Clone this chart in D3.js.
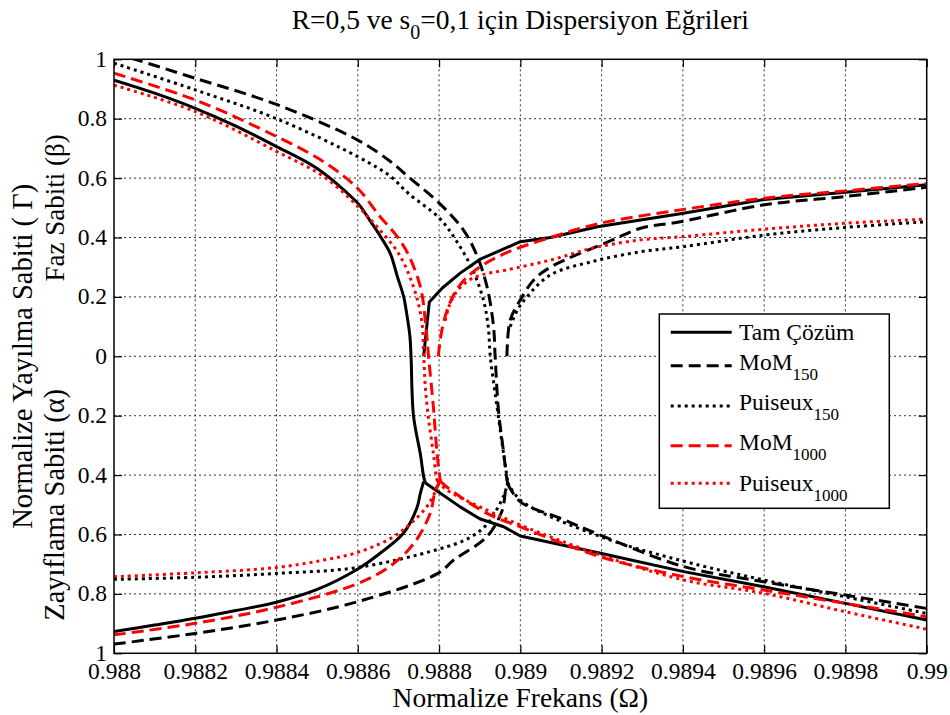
<!DOCTYPE html>
<html>
<head>
<meta charset="utf-8">
<script src="https://cdn.jsdelivr.net/npm/d3@7"></script>
<style>
  body { margin: 0; background: #fff; }
  svg text { font-family: "Liberation Serif", "Times New Roman", serif; fill: #000; }
</style>
</head>
<body>
<div id="chart"></div>
<script>
// ticks
const omegaTicks = [0.988, 0.9882, 0.9884, 0.9886, 0.9888, 0.989, 0.9892, 0.9894, 0.9896, 0.9898, 0.99];
const gammaTicks = [-1, -0.8, -0.6, -0.4, -0.2, 0, 0.2, 0.4, 0.6, 0.8, 1];

// [omega, value] : beta above zero, alpha drawn below zero
// Tam cozum
const tamUpper = [[0.988, 0.93], [0.9881, 0.886], [0.9882, 0.835], [0.9883, 0.775], [0.9884, 0.706],
  [0.9885, 0.632], [0.9886, 0.515], [0.98862, 0.478], [0.988631, 0.455], [0.988655, 0.405],
  [0.98868, 0.346], [0.988697, 0.27], [0.988713, 0.20], [0.98872, 0.146], [0.988728, 0.07],
  [0.988731, 0], [0.988737, -0.20], [0.988754, -0.33], [0.988762, -0.405], [0.988766, -0.425]];
const tamTail = [[0.988766, -0.425], [0.98877, -0.43], [0.988852, -0.507], [0.9889, -0.547], [0.988959, -0.574],
  [0.989, -0.605], [0.989197, -0.663], [0.989402, -0.725], [0.989599, -0.776], [0.9898, -0.832], [0.99, -0.888]];
const tamLower = [[0.988, -0.927], [0.9881, -0.905], [0.9882, -0.882], [0.9883, -0.856], [0.9884, -0.828],
  [0.9885, -0.785], [0.9886, -0.716], [0.988655, -0.663], [0.988712, -0.596], [0.988745, -0.512],
  [0.988754, -0.461], [0.988762, -0.422]];
const tamRight = [[0.988762, 0], [0.988776, 0.183], [0.988808, 0.23], [0.988852, 0.28], [0.9889, 0.326],
  [0.989, 0.386], [0.989074, 0.40], [0.98919, 0.436], [0.989394, 0.48], [0.9896, 0.528],
  [0.9898, 0.552], [0.99, 0.578]];

// MoM 150
const mom150Upper = [[0.988, 1.02], [0.988056, 0.998], [0.9882, 0.936], [0.9884, 0.848], [0.9886, 0.728],
  [0.988681, 0.655], [0.988724, 0.605], [0.988801, 0.515], [0.98886, 0.425], [0.988893, 0.34],
  [0.988918, 0.234], [0.988934, 0.10], [0.988938, 0], [0.988946, -0.18], [0.988958, -0.315],
  [0.988967, -0.416], [0.988969, -0.43]];
const mom150Tail = [[0.988969, -0.43], [0.989, -0.49], [0.989098, -0.545], [0.989197, -0.602],
  [0.989402, -0.708], [0.989599, -0.759], [0.9898, -0.804], [0.99, -0.849]];
const mom150Lower = [[0.988, -0.969], [0.9882, -0.933], [0.9884, -0.888], [0.9886, -0.826], [0.988797, -0.731],
  [0.988836, -0.686], [0.988918, -0.607], [0.988955, -0.52], [0.988964, -0.45], [0.988969, -0.43]];
const mom150Right = [[0.988967, 0], [0.988975, 0.122], [0.989, 0.19], [0.989033, 0.257], [0.989074, 0.30],
  [0.989224, 0.39], [0.989296, 0.431], [0.989394, 0.453], [0.9896, 0.51], [0.9898, 0.538], [0.99, 0.569]];

// Puiseux 150
const pui150Upper = [[0.988, 0.987], [0.9882, 0.897], [0.9884, 0.80], [0.9886, 0.672], [0.988681, 0.605],
  [0.988724, 0.549], [0.988801, 0.465], [0.988842, 0.39], [0.988883, 0.29], [0.988909, 0.19],
  [0.988921, 0.10], [0.988926, 0], [0.988938, -0.125], [0.988954, -0.282], [0.988967, -0.405],
  [0.988969, -0.425]];
const pui150Tail = [[0.988969, -0.425], [0.989, -0.484], [0.989197, -0.607], [0.989402, -0.69], [0.989599, -0.753],
  [0.9898, -0.81], [0.99, -0.866]];
const pui150Lower = [[0.988, -0.751], [0.9882, -0.744], [0.9884, -0.731], [0.9886, -0.711], [0.988797, -0.65],
  [0.988872, -0.613], [0.988918, -0.565], [0.988959, -0.47], [0.988969, -0.425]];
const pui150Right = [[0.988975, 0.10], [0.988993, 0.156], [0.989016, 0.20], [0.989074, 0.274], [0.98918, 0.32],
  [0.989296, 0.352], [0.9894, 0.369], [0.9896, 0.408], [0.9898, 0.434], [0.99, 0.453]];

// MoM 1000
const mom1000Upper = [[0.988, 0.953], [0.9882, 0.863], [0.9884, 0.74], [0.988516, 0.655], [0.9886, 0.565],
  [0.988655, 0.47], [0.988697, 0.403], [0.988725, 0.341], [0.988754, 0.234], [0.988766, 0.122],
  [0.988774, 0], [0.988786, -0.17], [0.988795, -0.327], [0.988803, -0.42]];
const mom1000Tail = [[0.988803, -0.42], [0.988819, -0.44], [0.988918, -0.529], [0.989, -0.574], [0.989197, -0.675],
  [0.989402, -0.742], [0.989599, -0.787], [0.9898, -0.832], [0.99, -0.877]];
const mom1000Lower = [[0.988, -0.938], [0.9882, -0.899], [0.9884, -0.845], [0.9886, -0.765], [0.988681, -0.705],
  [0.988738, -0.63], [0.988778, -0.529], [0.988791, -0.45], [0.988803, -0.42]];
const mom1000Right = [[0.988798, 0], [0.988807, 0.089], [0.988823, 0.167], [0.988848, 0.234], [0.988889, 0.29],
  [0.988963, 0.347], [0.989074, 0.40], [0.989197, 0.448], [0.989394, 0.493], [0.9896, 0.532],
  [0.9898, 0.557], [0.99, 0.582]];

// Puiseux 1000
const pui1000Upper = [[0.988, 0.913], [0.9882, 0.824], [0.9884, 0.69], [0.988516, 0.605], [0.9886, 0.505],
  [0.988647, 0.436], [0.9887, 0.347], [0.988737, 0.234], [0.988757, 0.122], [0.988762, 0.01],
  [0.988766, -0.10], [0.988774, -0.21], [0.988786, -0.327], [0.988795, -0.416], [0.988797, -0.42]];
const pui1000Tail = [[0.988797, -0.42], [0.988819, -0.45], [0.988918, -0.518], [0.989, -0.568], [0.989197, -0.669],
  [0.989402, -0.753], [0.989599, -0.798], [0.9898, -0.86], [0.99, -0.919]];
const pui1000Lower = [[0.988, -0.742], [0.9882, -0.729], [0.9884, -0.711], [0.988516, -0.686], [0.9886, -0.66],
  [0.988681, -0.613], [0.988731, -0.562], [0.988773, -0.50], [0.988795, -0.44], [0.988797, -0.42]];
const pui1000Right = [[0.988815, 0.12], [0.988825, 0.17], [0.988842, 0.215], [0.988872, 0.255], [0.988907, 0.275],
  [0.988963, 0.29], [0.989074, 0.324], [0.98918, 0.365], [0.989296, 0.392], [0.9894, 0.403],
  [0.9896, 0.428], [0.9898, 0.448], [0.99, 0.462]];

const legendNames = ["Tam Çözüm", "MoM", "Puiseux", "MoM", "Puiseux"];
const legendSubs = ["", "150", "150", "1000", "1000"];

const seriesStyle = [
  { color: "#000", dash: null },
  { color: "#000", dash: "12,6" },
  { color: "#000", dash: "3,4" },
  { color: "#f00", dash: "12,6" },
  { color: "#f00", dash: "3,4" }
];
const seriesBranches = [
  [tamUpper, tamTail, tamLower, tamRight],
  [mom150Upper, mom150Tail, mom150Lower, mom150Right],
  [pui150Upper, pui150Tail, pui150Lower, pui150Right],
  [mom1000Upper, mom1000Tail, mom1000Lower, mom1000Right],
  [pui1000Upper, pui1000Tail, pui1000Lower, pui1000Right]
];
// the exact solution is coarse on the right side, so keep it as straight pieces there
const straightBranches = [tamTail, tamRight];

const width = 950, height = 715;
const margin = { top: 59.3, right: 23.3, bottom: 61.7, left: 114 };
const plotW = width - margin.left - margin.right;
const plotH = height - margin.top - margin.bottom;

const svg = d3.select("#chart").append("svg")
  .attr("width", width)
  .attr("height", height);

const x = d3.scaleLinear().domain([0.988, 0.99]).range([0, plotW]);
const y = d3.scaleLinear().domain([-1, 1]).range([plotH, 0]);

const g = svg.append("g").attr("transform", `translate(${margin.left},${margin.top})`);

svg.append("defs").append("clipPath").attr("id", "clip")
  .append("rect").attr("width", plotW).attr("height", plotH);

// grid
g.append("g").selectAll("line").data(omegaTicks.slice(1, -1)).join("line")
  .attr("x1", d => x(d)).attr("x2", d => x(d))
  .attr("y1", 0).attr("y2", plotH)
  .attr("stroke", "#333").attr("stroke-width", 1).attr("stroke-dasharray", "2,3");
g.append("g").selectAll("line").data(gammaTicks.slice(1, -1)).join("line")
  .attr("x1", 0).attr("x2", plotW)
  .attr("y1", d => y(d)).attr("y2", d => y(d))
  .attr("stroke", "#333").attr("stroke-width", 1).attr("stroke-dasharray", "2,3");

// curves
const straight = d3.line().x(d => x(d[0])).y(d => y(d[1]));
const smooth = d3.line().curve(d3.curveCatmullRom.alpha(0.5)).x(d => x(d[0])).y(d => y(d[1]));
const curves = g.append("g").attr("clip-path", "url(#clip)");
seriesBranches.forEach((branches, i) => {
  const st = seriesStyle[i];
  curves.selectAll(null).data(branches).join("path")
    .attr("d", d => straightBranches.includes(d) ? straight(d) : smooth(d))
    .attr("fill", "none")
    .attr("stroke", st.color)
    .attr("stroke-width", 3)
    .attr("stroke-dasharray", st.dash)
    .attr("stroke-linejoin", "round");
});

// axes, inward ticks
const fmtOmega = d => String(+d.toFixed(4));
const fmtGamma = d => String(+Math.abs(d).toFixed(1));

const xAxis = g.append("g").attr("transform", `translate(0,${plotH})`)
  .call(d3.axisBottom(x).tickValues(omegaTicks).tickFormat(fmtOmega).tickSizeInner(-8).tickSizeOuter(0).tickPadding(9));
g.append("g")
  .call(d3.axisTop(x).tickValues(omegaTicks).tickFormat("").tickSizeInner(-8).tickSizeOuter(0));
const yAxis = g.append("g")
  .call(d3.axisLeft(y).tickValues(gammaTicks).tickFormat(fmtGamma).tickSizeInner(-8).tickSizeOuter(0).tickPadding(7));
g.append("g").attr("transform", `translate(${plotW},0)`)
  .call(d3.axisRight(y).tickValues(gammaTicks).tickFormat("").tickSizeInner(-8).tickSizeOuter(0));

g.selectAll(".domain").remove();
g.selectAll(".tick line").attr("stroke", "#000").attr("stroke-width", 1.2);
xAxis.selectAll("text").style("font-size", "23.5px").attr("dy", "0.72em");
yAxis.selectAll("text").style("font-size", "23.5px").attr("dy", "0.3em");

g.append("rect").attr("width", plotW).attr("height", plotH)
  .attr("fill", "none").attr("stroke", "#000").attr("stroke-width", 1.5);

// title
const title = svg.append("text")
  .attr("x", margin.left + plotW / 2).attr("y", 29)
  .attr("text-anchor", "middle").style("font-size", "27.5px");
title.append("tspan").text("R=0,5 ve s");
title.append("tspan").attr("dy", 10).style("font-size", "20px").text("0");
title.append("tspan").attr("dy", -10).text("=0,1 için Dispersiyon Eğrileri");

// axis labels
svg.append("text")
  .attr("x", margin.left + plotW / 2).attr("y", 707)
  .attr("text-anchor", "middle").style("font-size", "27.5px")
  .text("Normalize Frekans (Ω)");

svg.append("text")
  .attr("transform", `translate(32,${margin.top + plotH / 2}) rotate(-90)`)
  .attr("text-anchor", "middle").style("font-size", "28.5px")
  .text("Normalize Yayılma Sabiti ( Γ)");
svg.append("text")
  .attr("transform", `translate(64,${margin.top + y(0.5)}) rotate(-90)`)
  .attr("text-anchor", "middle").style("font-size", "27px")
  .text("Faz Sabiti (β)");
svg.append("text")
  .attr("transform", `translate(64,${margin.top + y(-0.5)}) rotate(-90)`)
  .attr("text-anchor", "middle").style("font-size", "28.5px")
  .text("Zayıflama Sabiti (α)");

// legend
const legendLineY = [332.3, 365.7, 406, 445.7, 483.3];
const legendTextY = [340, 370, 410, 450, 490.7];
const legend = svg.append("g");
legend.append("rect")
  .attr("x", 659.3).attr("y", 314).attr("width", 230).attr("height", 194.3)
  .attr("fill", "#fff").attr("stroke", "#000").attr("stroke-width", 1.5);
legendNames.forEach((name, i) => {
  legend.append("line")
    .attr("x1", 670.7).attr("x2", 731.7)
    .attr("y1", legendLineY[i]).attr("y2", legendLineY[i])
    .attr("stroke", seriesStyle[i].color).attr("stroke-width", 3)
    .attr("stroke-dasharray", seriesStyle[i].dash);
  const t = legend.append("text")
    .attr("x", 739).attr("y", legendTextY[i])
    .style("font-size", "23.5px");
  t.append("tspan").text(name);
  if (legendSubs[i]) {
    t.append("tspan").attr("dy", 10).style("font-size", "17px").text(legendSubs[i]);
  }
});
</script>
</body>
</html>
